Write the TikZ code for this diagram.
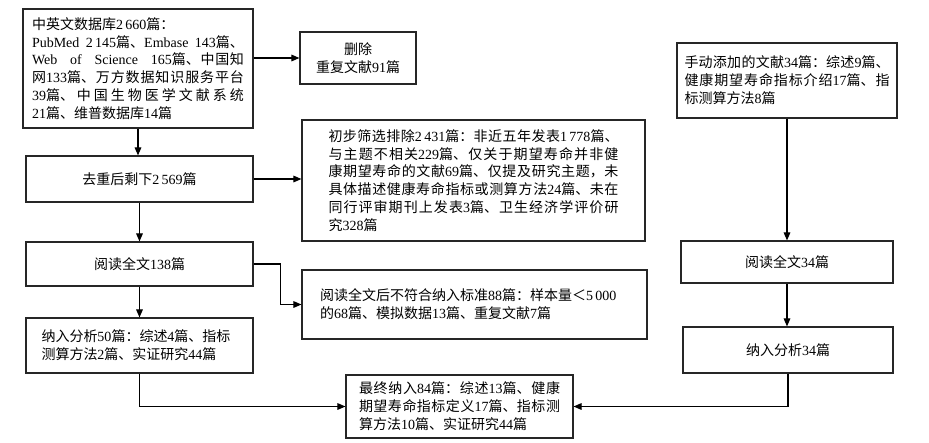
\documentclass[tikz,border=0pt]{standalone}
\usepackage{fontspec}
\setmainfont{Liberation Serif}
\newfontfamily\cjk{Noto Sans CJK SC}
\usetikzlibrary{positioning,arrows.meta}

% CJK characters in the CJK font, digits and Latin in the main font
\XeTeXinterchartokenstate=1
\newXeTeXintercharclass\cjkclass
\newcount\cjkchar
\def\setcjkrange#1#2{%
  \cjkchar=#1
  \loop
    \XeTeXcharclass\cjkchar=\cjkclass
  \ifnum\cjkchar<#2
    \advance\cjkchar by 1
  \repeat}
\setcjkrange{"3000}{"303F}
\setcjkrange{"4E00}{"9FFF}
\setcjkrange{"FF00}{"FFEF}
\XeTeXinterchartoks 0 \cjkclass = {\cjk}
\XeTeXinterchartoks 4095 \cjkclass = {\cjk}
\XeTeXinterchartoks \cjkclass 0 = {\rmfamily}
\XeTeXinterchartoks \cjkclass 4095 = {\rmfamily}
\XeTeXlinebreaklocale "zh"
\XeTeXlinebreakskip=0pt plus 0.1pt

\tikzset {
    style A/.style={
        draw=black!85,
        line width=0.9pt,
        rectangle, % text box
        inner sep=0pt,
        align=justify,
    },
    style B/.style={
        draw=black!85,
        line width=0.9pt,
        rectangle, % one line box
        inner sep=0pt,
        align=center,
    },
}

\begin{document}
\begin{tikzpicture}
[x=0.75pt, y=-0.75pt, font=\fontsize{10.5pt}{13.4pt}\selectfont, >={Triangle[length=6pt,width=5pt]}]
\useasboundingbox (0,0) rectangle (929,443);

\node[style A, minimum width=172.5pt, minimum height=89.25pt, text width=159pt] at (138, 68.5) (dbSearch) {中英文数据库2\,660篇：\\
PubMed 2\,145篇、Embase 143篇、\linebreak
Web of Science 165篇、中国知\linebreak
网133篇、万方数据知识服务平台\linebreak
39篇、中国生物医学文献系统\linebreak
21篇、维普数据库14篇};
\node[style B, minimum width=87pt, minimum height=39pt] at (358, 58) (dupRemoved) {删除\\重复文献91篇};
\node[style B, minimum width=170.25pt, minimum height=34.5pt] at (139.5, 179) (afterDedup) {去重后剩下2\,569篇};
\node[style A, minimum width=257.25pt, minimum height=90.75pt, text width=217.5pt] at (473.5, 180.5) (firstExcl) {初步筛选排除2\,431篇：非近五年发表1\,778篇、\linebreak
与主题不相关229篇、仅关于期望寿命并非健\linebreak
康期望寿命的文献69篇、仅提及研究主题，未\linebreak
具体描述健康寿命指标或测算方法24篇、未在\linebreak
同行评审期刊上发表3篇、卫生经济学评价研\linebreak
究328篇};
\node[style B, minimum width=170.25pt, minimum height=33pt] at (139.5, 264) (fullText) {阅读全文138篇};
\node[style A, minimum width=258.75pt, minimum height=51.75pt, text width=231.75pt] at (474.5, 304.5) (fullTextExcl) {阅读全文后不符合纳入标准88篇：样本量＜5\,000\\
的68篇、模拟数据13篇、重复文献7篇};
\node[style A, minimum width=170.25pt, minimum height=41.25pt, text width=147pt] at (139.5, 345.5) (included) {纳入分析50篇：综述4篇、指标\\
测算方法2篇、实证研究44篇};
\node[style A, minimum width=165pt, minimum height=56.25pt, text width=153.75pt] at (787, 80.5) (manualAdd) {手动添加的文献34篇：综述9篇、\linebreak
健康期望寿命指标介绍17篇、指\linebreak
标测算方法8篇};
\node[style B, minimum width=159pt, minimum height=31.5pt] at (787, 262) (manualFull) {阅读全文34篇};
\node[style B, minimum width=157.5pt, minimum height=34.5pt] at (788, 350) (manualIncl) {纳入分析34篇};
\node[style A, minimum width=170.25pt, minimum height=47.25pt, text width=150.75pt] at (459.5, 406.5) (finalIncl) {最终纳入84篇：综述13篇、健康\linebreak
期望寿命指标定义17篇、指标测\linebreak
算方法10篇、实证研究44篇};

\draw[line width=0.8pt, ->] (dupRemoved.west -| dbSearch.east) -- (dupRemoved.west);
\draw[line width=0.8pt, ->] (dbSearch.south) -- (dbSearch.south |- afterDedup.north);
\draw[line width=0.8pt, ->] (afterDedup.east) -- (afterDedup.east -| firstExcl.west);
\draw[line width=0.8pt, ->] (afterDedup.south) -- (fullText.north);
\draw[line width=0.8pt, ->] (fullText.east) -- ++(27,0) |- (fullTextExcl.west);
\draw[line width=0.8pt, ->] (fullText.south) -- (included.north);
\draw[line width=0.8pt, ->] (included.south) |- (finalIncl.west);
\draw[line width=0.8pt, ->] (manualAdd.south) -- (manualAdd.south |- manualFull.north);
\draw[line width=0.8pt, ->] (manualFull.south) -- (manualFull.south |- manualIncl.north);
\draw[line width=0.8pt, ->] (manualIncl.south) |- (finalIncl.east);
\end{tikzpicture}
\end{document}
